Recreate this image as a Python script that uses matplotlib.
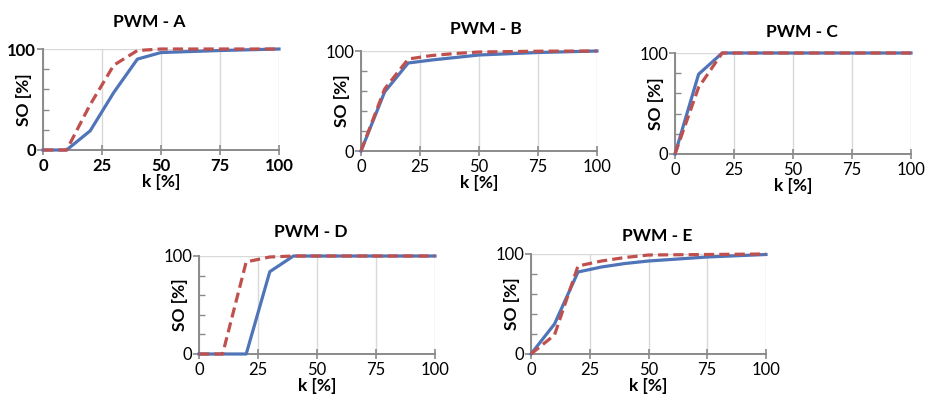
import matplotlib
matplotlib.use("Agg")
import matplotlib.pyplot as plt
import numpy as np

plt.rcParams['font.family'] = ['Lato', 'DejaVu Sans']

# k [%] sample points shared by all panels
k = [0, 10, 20, 30, 40, 50, 75, 100]

titles = ["PWM - A", "PWM - B", "PWM - C", "PWM - D", "PWM - E"]

# SO [%] values (solid blue / dashed red)
blue_A = [0, 0, 19, 57, 90, 96.5, 98.5, 100]
red_A = [0, 0, 45, 84, 98.5, 100, 100, 100]
blue_B = [0, 59, 88, 91, 93.5, 96, 98.5, 100]
red_B = [0, 62, 92, 95.5, 97.5, 99, 99.8, 100]
blue_C = [0, 79, 100, 100, 100, 100, 100, 100]
red_C = [0, 66, 100, 100, 100, 100, 100, 100]
blue_D = [0, 0, 0, 84, 100, 100, 100, 100]
red_D = [0, 0, 94, 99, 100, 100, 100, 100]
blue_E = [0, 30, 82, 87, 90.5, 93, 97, 99.5]
red_E = [0, 19, 88, 93, 96.5, 99, 99.5, 100]

blues = [blue_A, blue_B, blue_C, blue_D, blue_E]
reds = [red_A, red_B, red_C, red_D, red_E]

W, H = 927, 394
# axes boxes in pixels: left, top, right, bottom
boxes = [(43, 49, 279, 150), (361, 51, 597, 151), (675, 53, 911, 154),
         (199, 256, 435, 354), (531, 254, 766, 354)]
title_dx = [-12, 7, 9, -6, 9]   # title offset from axes centre, px
title_dy = [27, 22, 21, 24, 18]  # title centre above axes top, px

blue = '#4f74b8'
red = '#c0504d'
spine = '#8a8a8a'
gridc = '#d9d9d9'

fig = plt.figure(figsize=(W / 100, H / 100), dpi=100)

for i in range(5):
    l, t, r, b = boxes[i]
    w, h = r - l, b - t
    ax = fig.add_axes([l / W, 1 - b / H, w / W, h / H])
    ax.plot(k, blues[i], color=blue, lw=2.3, clip_on=False, zorder=3)
    ax.plot(k, reds[i], color=red, lw=2.3, linestyle=(0, (3.2, 1.6)),
            clip_on=False, zorder=4)
    ax.set_xlim(0, 100)
    ax.set_ylim(0, 100)
    ax.set_xticks([0, 25, 50, 75, 100])
    ax.set_yticks([0, 100])
    ax.set_yticks([20, 40, 60, 80], minor=True)
    ax.grid(True, axis='x', color=gridc, lw=1)
    ax.axhline(100, color=gridc, lw=1, zorder=0)
    for s in ['top', 'right']:
        ax.spines[s].set_visible(False)
    for s in ['left', 'bottom']:
        ax.spines[s].set_color(spine)
        ax.spines[s].set_linewidth(1.4)
    ax.tick_params(axis='x', direction='inout', length=7, width=1.2,
                   color=spine, pad=2, labelsize=12)
    ax.tick_params(axis='y', which='major', direction='out', length=4,
                   width=1.2, color=spine, pad=1, labelsize=12)
    ax.tick_params(axis='y', which='minor', direction='in', length=4,
                   width=1.0, color=spine)
    wt = 'bold' if i == 0 else 'normal'
    for lab in ax.get_xticklabels() + ax.get_yticklabels():
        lab.set_fontweight(wt)
    ax.set_xlabel('k [%]', fontsize=12.5, fontweight='bold', va='center')
    ax.set_ylabel('SO [%]', fontsize=12.5, fontweight='bold', va='center')
    ax.xaxis.set_label_coords(0.5, -32 / h)
    ax.yaxis.set_label_coords(-19 / w, 0.5)
    cx = (l + r) / 2 + title_dx[i]
    fig.text(cx / W, 1 - (t - title_dy[i]) / H, titles[i], fontsize=12.5,
             fontweight='bold', ha='center', va='center')

fig.savefig('out.png', dpi=100)
